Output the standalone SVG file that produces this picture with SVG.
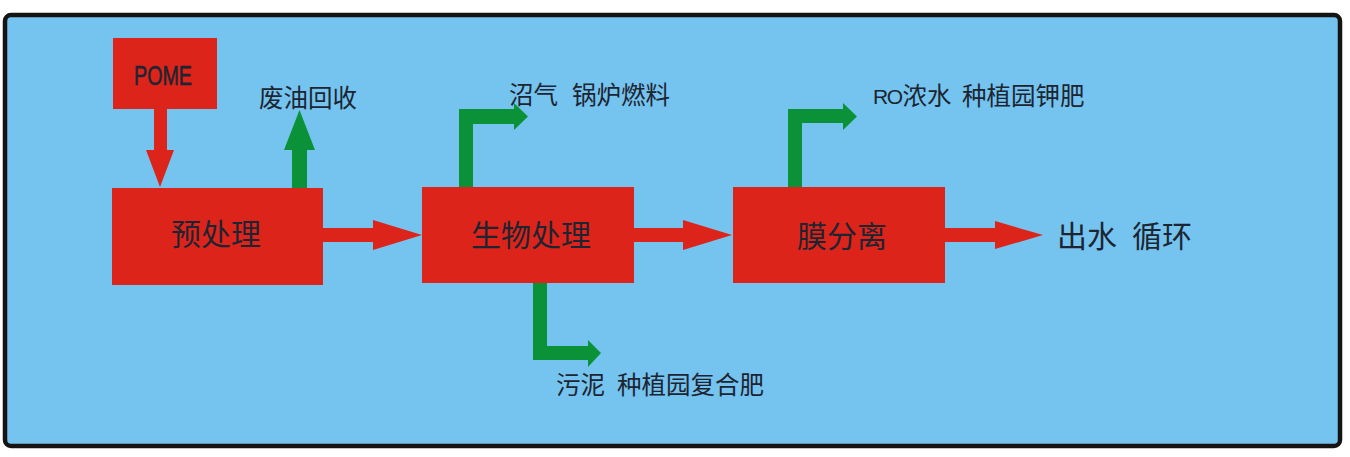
<svg xmlns="http://www.w3.org/2000/svg" width="1350" height="457" viewBox="0 0 1350 457">
<style>
.box{fill:#dd241b;}
.red{fill:#dd241b;}
.green{fill:#0b9239;}
.t{font-family:"Noto Sans CJK SC","Liberation Sans",sans-serif;fill:#1c2531;dominant-baseline:central;}
.lbl{font-size:24.5px;}
.big{font-size:30px;}
.mid{text-anchor:middle;}
.latin{font-family:"Liberation Sans",sans-serif;}
.ro{font-family:"Liberation Sans",sans-serif;font-size:21px;letter-spacing:-1.5px;}
</style>
<rect x="0" y="0" width="1350" height="457" fill="#ffffff"/>
<rect id="frame" x="5" y="15" width="1335" height="431" rx="6" fill="#75c3ef" stroke="#161412" stroke-width="4.5"/>
<g id="connectors">
<polygon class="red" points="154,109 167,109 167,150 174,150 160,187 146,150 154,150"/>
<polygon class="green" points="292,188 292,150 284,150 299.5,110 315,150 307,150 307,188"/>
<polygon class="red" points="323,228 373,228 373,220 422,235 373,250 373,242 323,242"/>
<polygon class="red" points="634,228 683,228 683,220 732,235 683,250 683,242 634,242"/>
<polygon class="red" points="945,228 995,228 995,221 1043,235 995,249 995,242 945,242"/>
<polygon class="green" points="459,187 459,109 514,109 514,103 528,116.5 514,130 514,124 473,124 473,187"/>
<polygon class="green" points="788,187 788,109 843,109 843,103 857,116.5 843,130 843,123 802,123 802,187"/>
<polygon class="green" points="533,283 547,283 547,346 588,346 588,340 601,353 588,367 588,360 533,360"/>
</g>
<g id="pome">
<rect class="box" x="113" y="38" width="104" height="71"/>
<text class="latin" x="134" y="85" font-size="27" fill="#1c2531" stroke="#1c2531" stroke-width="0.6" textLength="58" lengthAdjust="spacingAndGlyphs">POME</text>
</g>
<g id="pretreat">
<rect class="box" x="112" y="188" width="211" height="97"/>
<text class="t big mid" x="216" y="232">预处理</text>
</g>
<g id="bio">
<rect class="box" x="422" y="187" width="212" height="96"/>
<text class="t big mid" x="531" y="233">生物处理</text>
</g>
<g id="membrane">
<rect class="box" x="733" y="187" width="212" height="96"/>
<text class="t big mid" x="842" y="234">膜分离</text>
</g>
<g id="oil">
<text class="t lbl" x="259" y="96">废油回收</text>
</g>
<g id="biogas">
<text class="t lbl" y="92.5"><tspan x="509">沼气</tspan><tspan x="572">锅炉燃料</tspan></text>
</g>
<g id="ro">
<text class="t lbl" y="104.5" style="dominant-baseline:alphabetic"><tspan class="ro" x="873" y="103.5">RO</tspan><tspan y="104.5" dx="1">浓水</tspan><tspan x="962">种植园钾肥</tspan></text>
</g>
<g id="sludge">
<text class="t lbl" y="382.5"><tspan x="556">污泥</tspan><tspan x="617">种植园复合肥</tspan></text>
</g>
<g id="outlet">
<text class="t big" y="233.5"><tspan x="1057">出水</tspan><tspan x="1132">循环</tspan></text>
</g>
</svg>
